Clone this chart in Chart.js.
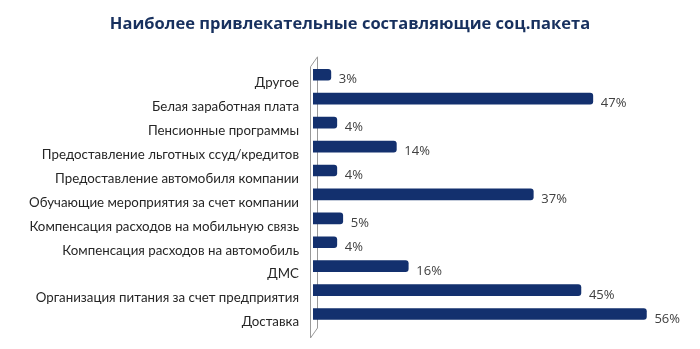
<!DOCTYPE html>
<html>
<head>
<meta charset="utf-8">
<script src="https://cdn.jsdelivr.net/npm/chart.js@4.4.0/dist/chart.umd.min.js"></script>
<style>
  html, body { margin: 0; padding: 0; background: #fff; }
  #wrap { width: 700px; height: 349px; }
</style>
</head>
<body>
<div id="wrap"><canvas id="benefitsChart"></canvas></div>
<script>
// data
var categories = [
    'Другое',
    'Белая заработная плата',
    'Пенсионные программы',
    'Предоставление льготных ссуд/кредитов',
    'Предоставление автомобиля компании',
    'Обучающие мероприятия за счет компании',
    'Компенсация расходов на мобильную связь',
    'Компенсация расходов на автомобиль',
    'ДМС',
    'Организация питания за счет предприятия',
    'Доставка'
];
var shares = [3, 47, 4, 14, 4, 37, 5, 4, 16, 45, 56];
var chartTitle = 'Наиболее привлекательные составляющие соц.пакета';

// thin 3d wall behind the bars, like the office chart
var wallPlugin = {
    id: 'wall',
    beforeDatasetsDraw: function (chart) {
        var a = chart.chartArea, c = chart.ctx;
        var x0 = a.left - 2.5, dx = 7, dy = 10;
        c.save();
        c.strokeStyle = '#9a9a9a';
        c.lineWidth = 1;
        c.beginPath();
        c.moveTo(x0, a.top + 4);
        c.lineTo(x0, a.bottom + 12);
        c.lineTo(x0 + dx, a.bottom + 12 - dy);
        c.lineTo(x0 + dx, a.top + 4 - dy);
        c.lineTo(x0, a.top + 4);
        c.stroke();
        c.restore();
    }
};

// percentage labels at the bar ends
var valueLabels = {
    id: 'valueLabels',
    afterDatasetsDraw: function (chart) {
        var c = chart.ctx;
        var meta = chart.getDatasetMeta(0);
        c.save();
        c.font = '13px "Open Sans", sans-serif';
        c.fillStyle = '#404040';
        c.textAlign = 'left';
        c.textBaseline = 'middle';
        meta.data.forEach(function (bar, i) {
            c.fillText(shares[i] + '%', bar.x + 8, bar.y + 5);
        });
        c.restore();
    }
};

document.addEventListener('DOMContentLoaded', function () {
    var ctx = document.getElementById('benefitsChart').getContext('2d');

    var barFill = function (context) {
        var el = context.element;
        if (!el || !el.y) return '#13306e';
        var g = ctx.createLinearGradient(0, el.y - 5.5, 0, el.y + 5.5);
        g.addColorStop(0, '#5571ae');
        g.addColorStop(0.22, '#1d3b7c');
        g.addColorStop(0.7, '#0f2a66');
        g.addColorStop(1, '#0a1d4a');
        return g;
    };

    new Chart(ctx, {
        type: 'bar',
        data: {
            labels: categories,
            datasets: [{
                data: shares,
                backgroundColor: barFill,
                borderWidth: 0,
                borderRadius: { topRight: 3, bottomRight: 3, topLeft: 0, bottomLeft: 0 },
                borderSkipped: false,
                barThickness: 11
            }]
        },
        options: {
            indexAxis: 'y',
            responsive: true,
            maintainAspectRatio: false,
            animation: false,
            layout: { padding: { top: 0, right: 0, bottom: 23, left: 0 } },
            plugins: {
                legend: { display: false },
                tooltip: { enabled: false },
                title: {
                    display: true,
                    text: chartTitle,
                    color: '#17305e',
                    font: { family: '"Open Sans", sans-serif', size: 16.5, weight: 'bold' },
                    padding: { top: 14, bottom: 29 }
                }
            },
            scales: {
                x: {
                    display: false,
                    min: 0,
                    max: 65
                },
                y: {
                    grid: { display: false },
                    border: { display: false },
                    afterFit: function (scale) { scale.width = 313; },
                    ticks: {
                        color: '#262626',
                        padding: 6,
                        labelOffset: 8,
                        font: { family: 'Lato, "Open Sans", sans-serif', size: 13.3 }
                    }
                }
            }
        },
        plugins: [wallPlugin, valueLabels]
    });
});
</script>
</body>
</html>
